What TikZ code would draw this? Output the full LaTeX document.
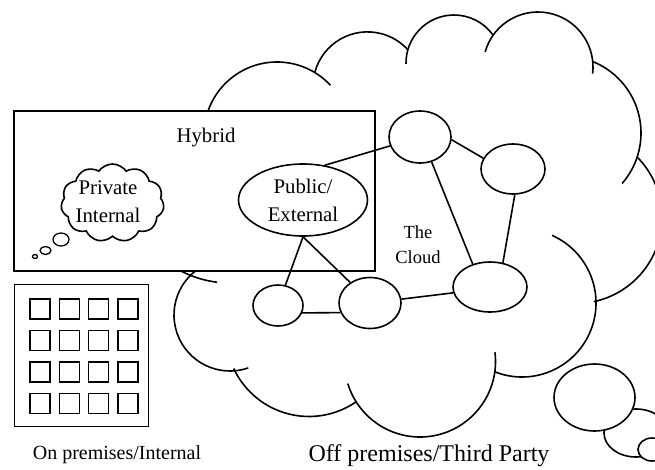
\documentclass[tikz,border=0pt]{standalone}
\usepackage{fontspec}
\setmainfont{Liberation Serif}
\usetikzlibrary{shapes.geometric,shapes.symbols}

% one puff of the big cloud: centre x, centre y, radius, start, end
\newcommand{\puff}[5]{\draw (#1,#2) ++(#4:#3pt) arc[start angle=#4, end angle=#5, radius=#3pt];}

\begin{document}
\begin{tikzpicture}[x=1pt, y=1pt, line width=1.6pt,
  every node/.style={font=\fontsize{20.8}{28}\selectfont, align=center},
  site/.style={draw, ellipse, inner sep=0pt},
  box/.style={draw, fill=white, rectangle, inner sep=0pt},
  bubble/.style={draw, fill=white, ellipse, inner sep=0pt}]
\useasboundingbox (0,0) rectangle (655,-470);

% the big cloud
\puff{230}{-177}{106}{200}{263}
\puff{277}{-135}{73}{175}{43}
\puff{367.5}{-86.4}{54.5}{165}{42}
\puff{454}{-63}{48}{181}{36}
\puff{538}{-67}{55}{164}{-7}
\puff{564}{-133}{77}{68}{-41}
\puff{576}{-217.5}{86}{45}{-78}
\puff{522}{-303}{74}{66}{-112}
\puff{420}{-361.5}{75.5}{7}{-163}
\puff{309}{-333.5}{83}{-55}{-155}
\puff{230}{-315}{56}{-71}{-250}

% thought bubbles of the big cloud
\node (tailmid) [bubble] at (636,-433) [minimum width=64, minimum height=48] {};
\node (tailbig) [bubble] at (594.5,-397.5) [minimum width=81, minimum height=67] {};
\node (tailsmall) [bubble] at (652,-449.5) [minimum width=28, minimum height=23] {};

% hybrid box
\node (hybrid) [box, minimum width=361pt, minimum height=160pt] at (194.5,-191) {};
\node (hybridlabel) at (206,-138) {Hybrid};

% private cloud
\node (private) [draw, cloud, cloud puffs=11, cloud puff arc=110, aspect=1.3,
  inner sep=0pt, minimum width=103pt, minimum height=78pt] at (112.5,-203) {};
\node (privatelabel) at (108,-202) {Private\\Internal};
\node (dot1) [bubble, line width=1.3pt, minimum width=16, minimum height=13] at (61,-239.5) {};
\node (dot2) [bubble, line width=1.3pt, minimum width=11, minimum height=8] at (45.5,-250.5) {};
\node (dot3) [bubble, line width=1.3pt, minimum width=5, minimum height=4] at (35,-256.5) {};

% sites
\node (public) [site, minimum width=129pt, minimum height=72pt] at (303,-200) {Public/\\External};
\node (site1) [site, minimum width=62pt, minimum height=52pt] at (420,-137) {};
\node (site2) [site, minimum width=64pt, minimum height=50pt] at (513,-169) {};
\node (site3) [site, minimum width=74pt, minimum height=50pt] at (490,-287) {};
\node (site4) [site, minimum width=62pt, minimum height=51pt] at (370,-303) {};
\node (site5) [site, minimum width=50pt, minimum height=41pt] at (278,-305.5) {};
\node (cloudlabel) [font=\fontsize{18.5}{25}\selectfont] at (418,-245) {The\\Cloud};

\draw (public.58) -- (site1);
\draw (site1.-5) -- (site2.160);
\draw (site1.-65) -- (site3.127);
\draw (site2.-86) -- (site3.62);
\draw (site4.7) -- (site3.189);
\draw (site5.-17) -- (site4.198);
\draw (public.south) -- (site5.70);
\draw (public.south) -- (site4.134);

% server rack
\node (server) [box, line width=1.2pt, minimum width=134pt, minimum height=142pt] at (81.5,-355.5) {};
\foreach \i in {0,...,3}
  \foreach \j in {0,...,3}
    \node (slot\i\j) [box, minimum width=20pt, minimum height=20pt] at (40+29.3*\i,-309-31.5*\j) {};

\node (onlabel) [font=\fontsize{20}{24}\selectfont] at (117,-455) {On premises/Internal};
\node (offlabel) [font=\fontsize{24}{28}\selectfont] at (429,-456) {Off premises/Third Party};
\end{tikzpicture}
\end{document}
